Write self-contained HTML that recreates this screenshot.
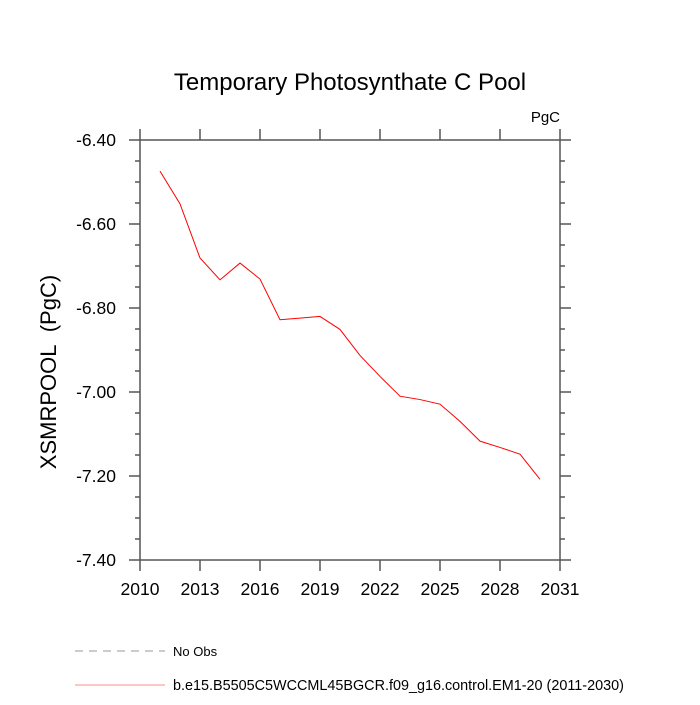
<!DOCTYPE html>
<html><head><meta charset="utf-8"><style>
html,body{margin:0;padding:0;background:#fff;}
svg text{font-family:"Liberation Sans",sans-serif;}
</style></head><body>
<svg id="chart" width="700" height="700" xmlns="http://www.w3.org/2000/svg">
<text x="350" y="90" text-anchor="middle" font-size="24">Temporary Photosynthate C Pool</text>
<text x="560" y="122" text-anchor="end" font-size="15">PgC</text>
<text transform="translate(56,372) rotate(-90)" text-anchor="middle" font-size="22">XSMRPOOL&#160;&#160;(PgC)</text>
<g id="axes"></g>
<g id="series"></g>
<g>
<line x1="75" y1="651" x2="165" y2="651" stroke="#999" stroke-dasharray="8,6"/>
<text x="173" y="656" font-size="13">No Obs</text>
<line x1="75" y1="685" x2="165" y2="685" stroke="#f66" stroke-width="0.8"/>
<text x="173" y="690" font-size="14.4">b.e15.B5505C5WCCML45BGCR.f09_g16.control.EM1-20 (2011-2030)</text>
</g>
</svg>
<script>
const years=[2011,2012,2013,2014,2015,2016,2017,2018,2019,2020,2021,2022,2023,2024,2025,2026,2027,2028,2029,2030];
const values=[-6.474,-6.552,-6.681,-6.733,-6.693,-6.731,-6.828,-6.824,-6.820,-6.851,-6.913,-6.963,-7.010,-7.018,-7.029,-7.070,-7.117,-7.132,-7.148,-7.208];
const xTicks=[2010,2013,2016,2019,2022,2025,2028,2031];
const yTicks=[-6.4,-6.6,-6.8,-7.0,-7.2,-7.4];
const X0=140,X1=560,Y0=140,Y1=560;
const xs=v=>X0+(v-2010)/(2031-2010)*(X1-X0);
const ys=v=>Y0+(-6.4-v)/1.0*(Y1-Y0);
const NS="http://www.w3.org/2000/svg";
const ax=document.getElementById('axes');
function mk(t,a,p){const e=document.createElementNS(NS,t);for(const k in a)e.setAttribute(k,a[k]);(p||ax).appendChild(e);return e;}
const frame=mk('rect',{x:X0,y:Y0,width:X1-X0,height:Y1-Y0,fill:'none',stroke:'#555','stroke-width':1.5});


const tc='#555';
xTicks.forEach(t=>{const x=xs(t);
 mk('line',{x1:x,y1:Y1,x2:x,y2:Y1+11,stroke:tc,'stroke-width':1.5});
 mk('line',{x1:x,y1:Y0,x2:x,y2:Y0-11,stroke:tc,'stroke-width':1.5});
 const tx=mk('text',{x:x,y:Y1+35,'text-anchor':'middle','font-size':17.5});tx.textContent=t;
 
 
});
for(let v=-6.4;v>=-7.4001;v-=0.05){const y=ys(v);const maj=Math.abs(Math.round(v*5)-v*5)<1e-6;const L=maj?11:5;
 mk('line',{x1:X0,y1:y,x2:X0-L,y2:y,stroke:tc,'stroke-width':1.5});
 mk('line',{x1:X1,y1:y,x2:X1+L,y2:y,stroke:tc,'stroke-width':1.5});}
yTicks.forEach(t=>{const tx=mk('text',{x:X0-24,y:ys(t)+6,'text-anchor':'end','font-size':17.5});tx.textContent=t.toFixed(2);
 
 });
const pts=years.map((y,i)=>xs(y)+','+ys(values[i])).join(' ');
const line=mk('polyline',{points:pts,fill:'none',stroke:'red','stroke-width':1},document.getElementById('series'));


</script>
</body></html>
